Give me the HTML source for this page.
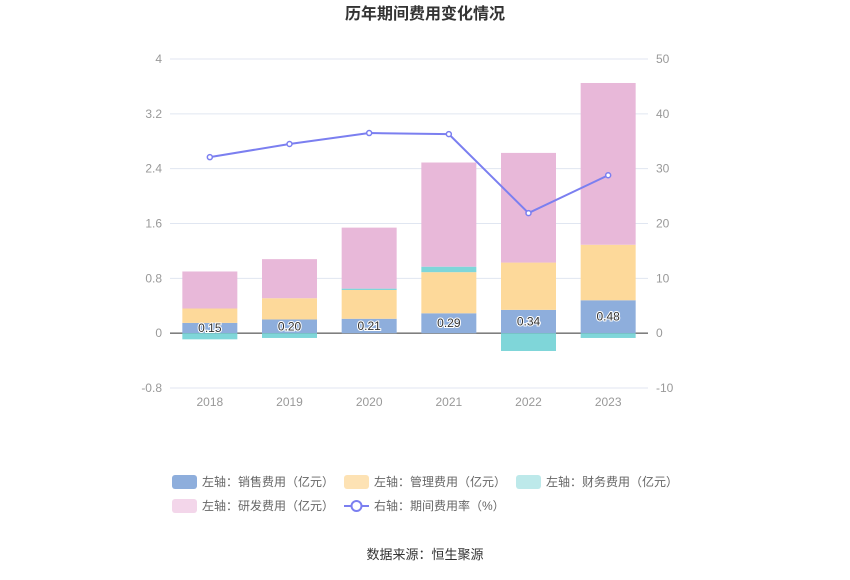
<!DOCTYPE html>
<html><head><meta charset="utf-8"><style>
body{margin:0;background:#fff;font-family:"Liberation Sans","Noto Sans CJK SC",sans-serif;}
</style></head><body>
<svg id="c" width="850" height="575" xmlns="http://www.w3.org/2000/svg" font-family="Liberation Sans, Noto Sans CJK SC, sans-serif">
<text x="425" y="19" text-anchor="middle" font-size="16" font-weight="bold" fill="#333">历年期间费用变化情况</text>
<g id="grid"></g><g id="bars"></g><g id="line"></g><g id="axes"></g>
<g id="legend" font-size="12" fill="#666">
<g><rect x="172" y="475" width="25" height="14" rx="3" fill="#8eaedc"/><text x="202" y="486" fill="#666">左轴：销售费用（亿元）</text></g>
<g><rect x="344" y="475" width="25" height="14" rx="3" fill="#fde2b4"/><text x="374" y="486" fill="#666">左轴：管理费用（亿元）</text></g>
<g><rect x="516" y="475" width="25" height="14" rx="3" fill="#bde9ea"/><text x="546" y="486" fill="#666">左轴：财务费用（亿元）</text></g>
<g><rect x="172" y="499" width="25" height="14" rx="3" fill="#f3d6ea"/><text x="202" y="510" fill="#666">左轴：研发费用（亿元）</text></g>
<g><line x1="344" y1="506" x2="369" y2="506" stroke="#7b7ff0" stroke-width="2"/><circle cx="356.5" cy="506" r="5" fill="#fff" stroke="#7b7ff0" stroke-width="2"/><text x="374" y="510" fill="#666">右轴：期间费用率（%）</text></g>
</g>
<text x="425" y="559" text-anchor="middle" font-size="13" fill="#333">数据来源：恒生聚源</text>
</svg>
<script>
const years=['2018','2019','2020','2021','2022','2023'];
const sales=[0.15,0.20,0.21,0.29,0.34,0.48];
const mgmt=[0.21,0.31,0.42,0.60,0.69,0.81];
const finance=[-0.09,-0.07,0.02,0.08,-0.26,-0.07];
const rd=[0.54,0.57,0.89,1.52,1.60,2.36];
const rate=[32.1,34.5,36.5,36.3,21.9,28.8];
const leftTicks=[-0.8,0,0.8,1.6,2.4,3.2,4];
const rightTicks=[-10,0,10,20,30,40,50];
const NS='http://www.w3.org/2000/svg';
const x0=170,x1=648,yTop=59,yBot=388;
const yL=v=>yBot-(v+0.8)/4.8*(yBot-yTop);
const yR=v=>yBot-(v+10)/60*(yBot-yTop);
const bw=(x1-x0)/years.length;
const xc=i=>x0+bw*(i+0.5);
function mk(tag,attrs,parent){const e=document.createElementNS(NS,tag);for(const k in attrs)e.setAttribute(k,attrs[k]);document.getElementById(parent).appendChild(e);return e;}
leftTicks.forEach((t,i)=>{
 const g=mk('line',{x1:x0,x2:x1,y1:yL(t),y2:yL(t),stroke:t===0?'#333':'#e0e6f1'},'grid');
 
 
 const l=mk('text',{x:x0-8,y:yL(t)+4,'text-anchor':'end','font-size':12,fill:'#999'},'axes');
 l.textContent=String(t);
 
 
});
rightTicks.forEach(t=>{
 const l=mk('text',{x:x1+8,y:yR(t)+4,'font-size':12,fill:'#999'},'axes');
 l.textContent=String(t);
 
 
});
years.forEach((y,i)=>{
 const l=mk('text',{x:xc(i),y:yBot+18,'text-anchor':'middle','font-size':12,fill:'#999'},'axes');
 l.textContent=y;
 
 
 const w=55,xl=xc(i)-w/2;
 let pos=0,neg=0;
 const series=[[sales,'#8eaedc','bar-sales'],[mgmt,'#fdd99a','bar-mgmt'],[finance,'#7fd6d9','bar-finance'],[rd,'#e8b8d9','bar-rd']];
 series.forEach(([arr,col,nm])=>{
  const v=arr[i];let a,b;
  if(v>=0){a=pos;b=pos+v;pos=b;}else{a=neg+v;b=neg;neg=a;}
  const r=mk('rect',{x:xl,y:yL(b),width:w,height:yL(a)-yL(b),fill:col},'bars');
  
  
 });
 const t=mk('text',{x:xc(i),y:yL(sales[i]/2)+4,'text-anchor':'middle','font-size':12,fill:'#333',stroke:'#fff','stroke-width':2,'paint-order':'stroke'},'bars');
 t.textContent=sales[i].toFixed(2);
 
 
});
const p=mk('polyline',{points:rate.map((v,i)=>xc(i)+','+yR(v)).join(' '),fill:'none',stroke:'#7b7ff0','stroke-width':2},'line');


rate.forEach((v,i)=>{
 const c=mk('circle',{cx:xc(i),cy:yR(v),r:2.5,fill:'#fff',stroke:'#7b7ff0','stroke-width':1.5},'line');
 
 
});
</script>
</body></html>
